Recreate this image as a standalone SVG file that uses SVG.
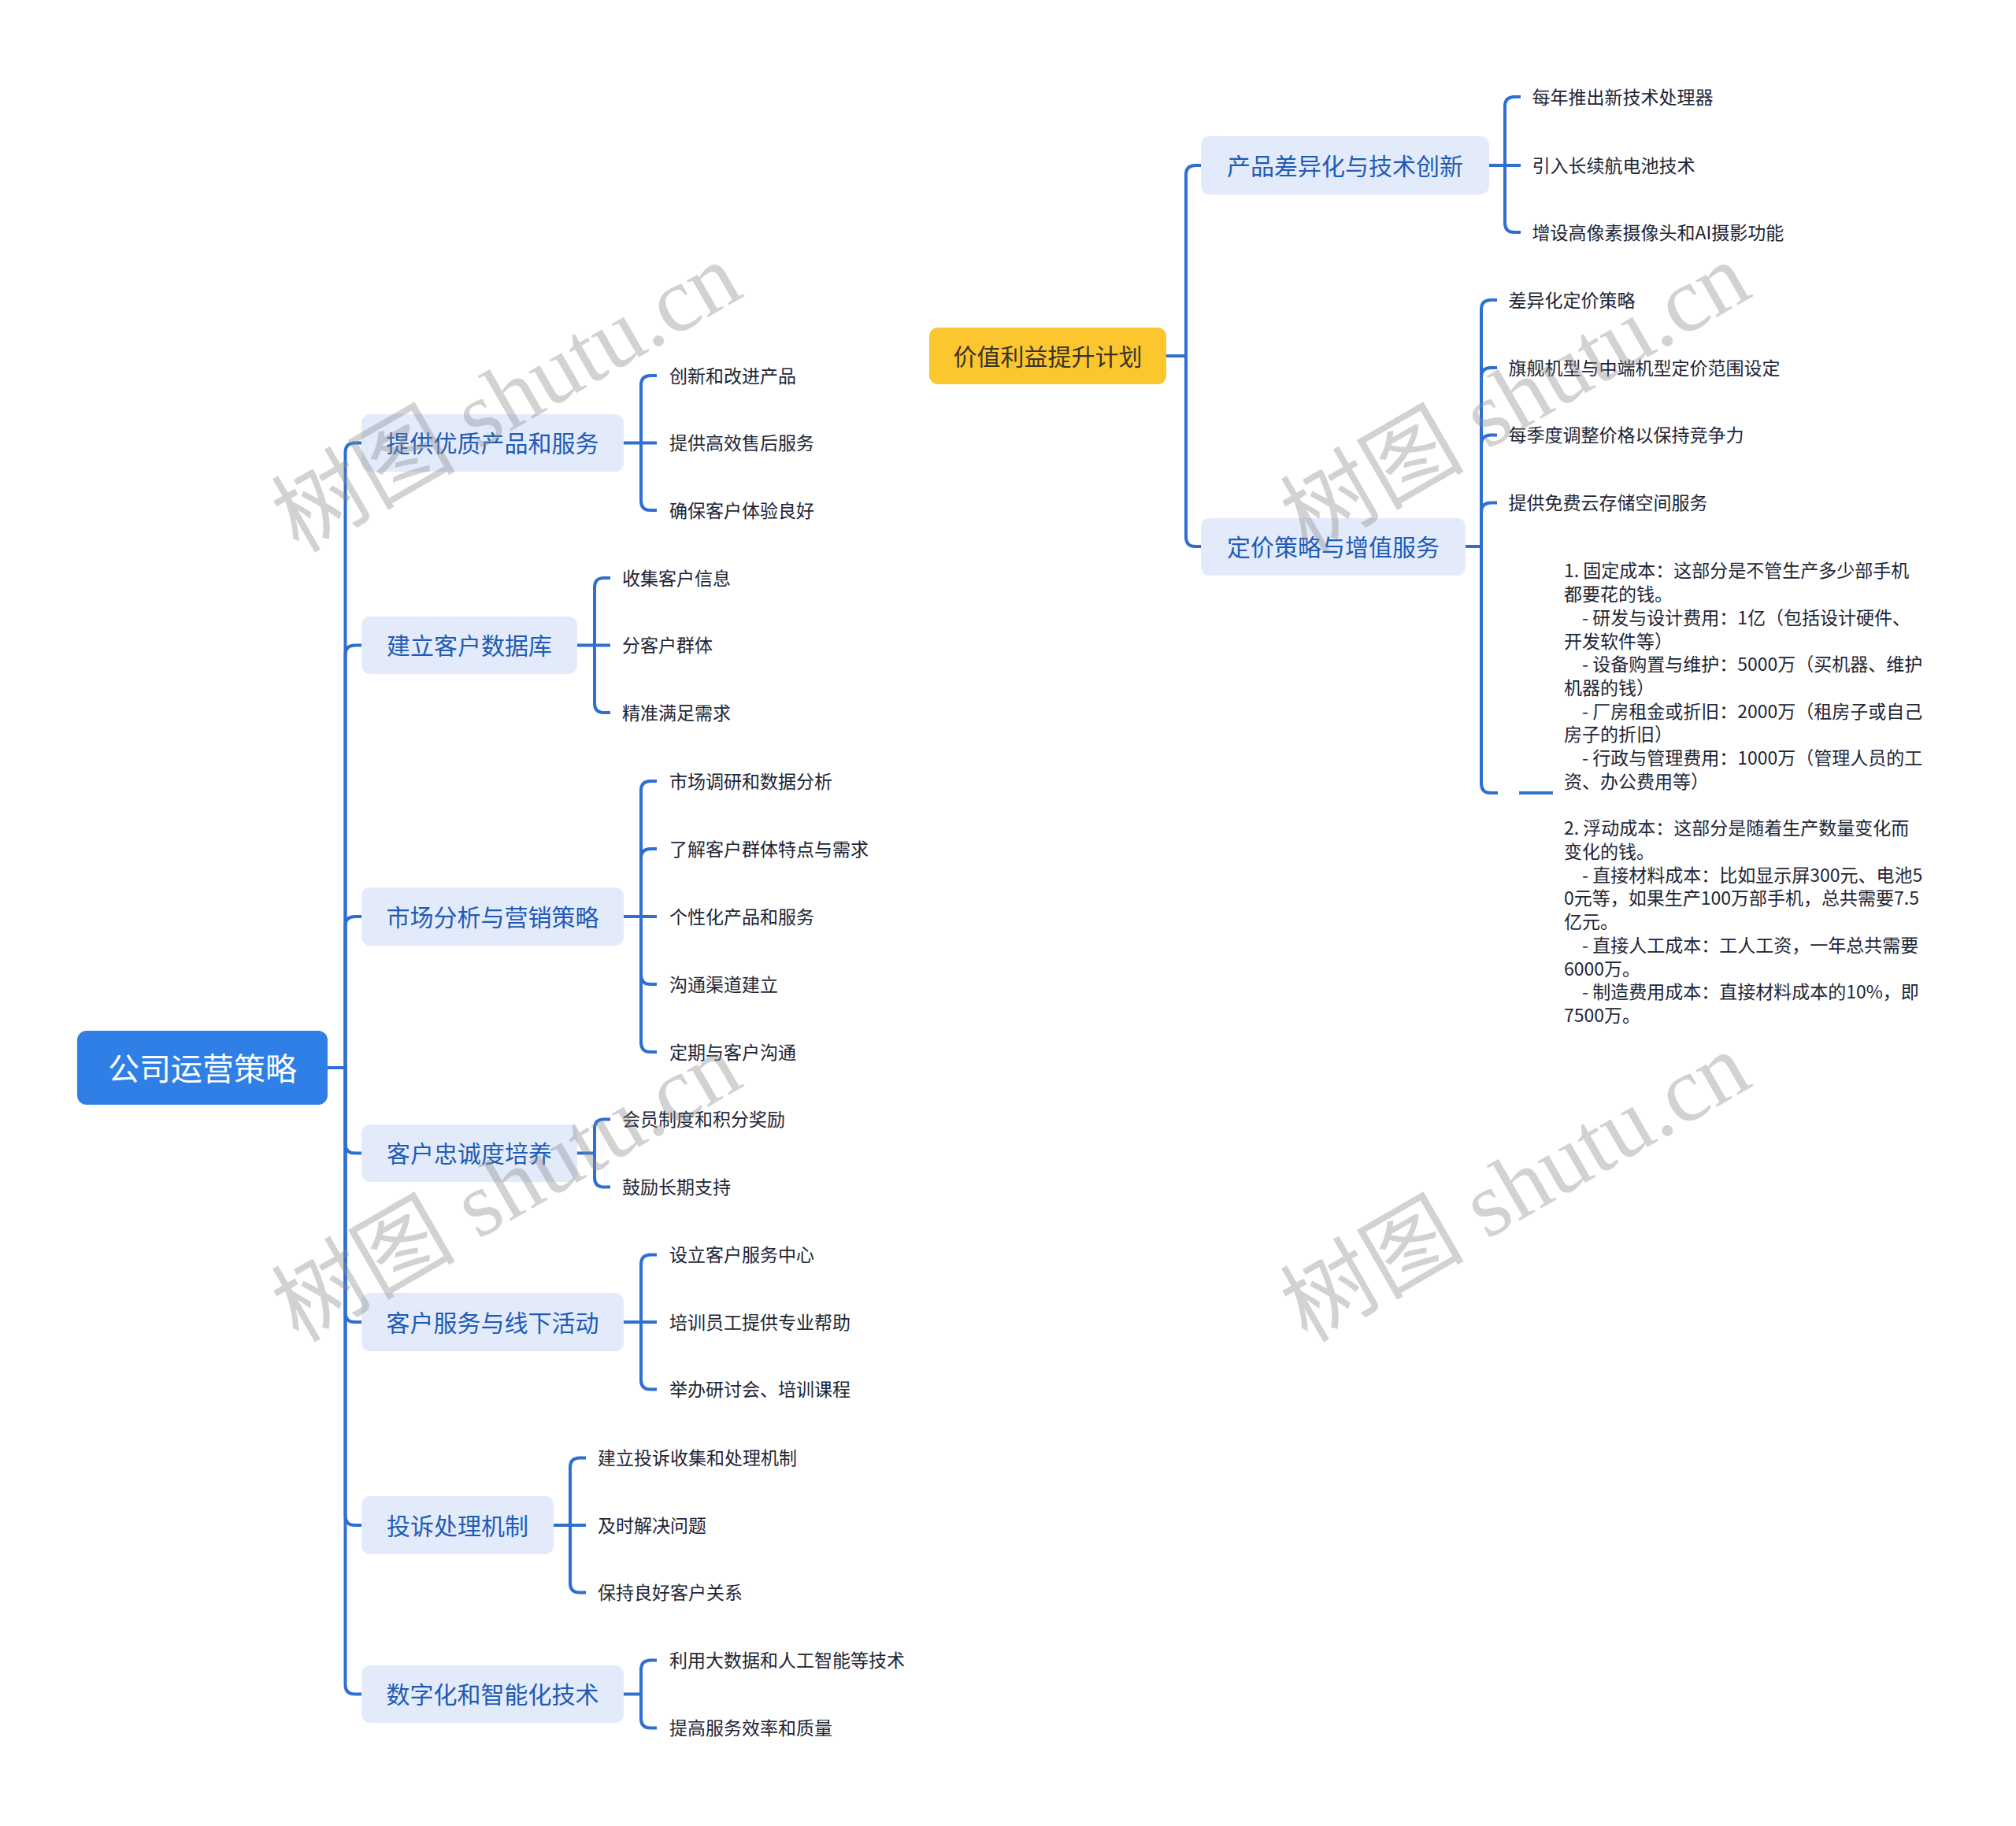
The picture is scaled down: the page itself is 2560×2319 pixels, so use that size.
<svg xmlns="http://www.w3.org/2000/svg" width="2560" height="2319" viewBox="0 0 2560 2319">
<style>
text{font-family:"Noto Sans CJK SC","Noto Sans",sans-serif;dominant-baseline:central}
.bg{fill:#ffffff}
.l1 rect{fill:#E3EBFB}
.l1 text{fill:#1F5BB5;font-size:30px;text-anchor:middle}
.leaf text{fill:#1e2535;font-size:23px}
.up{transform:translateY(-1.5px)}
.conn path{fill:none;stroke:#2F6FD0;stroke-width:4}
.wm{font-family:"Liberation Serif","Noto Sans CJK SC",serif;font-size:117px;fill:#8a8a8a;opacity:0.38;text-anchor:middle;dominant-baseline:alphabetic}
</style>
<rect class="bg" x="0" y="0" width="2560" height="2319"/>

<g id="connectors" class="conn">
<path d="M416 1356 H438.5"/>
<path d="M438.5 1356 V574.5 Q438.5 562.5 450.5 562.5 H459"/>
<path d="M438.5 1356 V831.5 Q438.5 819.5 450.5 819.5 H459"/>
<path d="M438.5 1356 V1176 Q438.5 1164 450.5 1164 H459"/>
<path d="M438.5 1356 V1452.5 Q438.5 1464.5 450.5 1464.5 H459"/>
<path d="M438.5 1356 V1667 Q438.5 1679 450.5 1679 H459"/>
<path d="M438.5 1356 V1925 Q438.5 1937 450.5 1937 H459"/>
<path d="M438.5 1356 V2139.5 Q438.5 2151.5 450.5 2151.5 H459"/>

<path d="M792 562.5 H814"/>
<path d="M814 562.5 V489 Q814 477 826 477 H834"/>
<path d="M814 562.5 H834"/>
<path d="M814 562.5 V636 Q814 648 826 648 H834"/>

<path d="M733 819.5 H755"/>
<path d="M755 819.5 V746 Q755 734 767 734 H775"/>
<path d="M755 819.5 H775"/>
<path d="M755 819.5 V893 Q755 905 767 905 H775"/>

<path d="M792 1164 H814"/>
<path d="M814 1164 V1004 Q814 992 826 992 H834"/>
<path d="M814 1164 V1090 Q814 1078 826 1078 H834"/>
<path d="M814 1164 H834"/>
<path d="M814 1164 V1238 Q814 1250 826 1250 H834"/>
<path d="M814 1164 V1324 Q814 1336 826 1336 H834"/>

<path d="M733 1464.5 H755"/>
<path d="M755 1464.5 V1433.5 Q755 1421.5 767 1421.5 H775"/>
<path d="M755 1464.5 V1495.5 Q755 1507.5 767 1507.5 H775"/>

<path d="M792 1679 H814"/>
<path d="M814 1679 V1605.5 Q814 1593.5 826 1593.5 H834"/>
<path d="M814 1679 H834"/>
<path d="M814 1679 V1752.5 Q814 1764.5 826 1764.5 H834"/>

<path d="M703 1937 H724"/>
<path d="M724 1937 V1863.5 Q724 1851.5 736 1851.5 H744"/>
<path d="M724 1937 H744"/>
<path d="M724 1937 V2010.5 Q724 2022.5 736 2022.5 H744"/>

<path d="M792 2151.5 H814"/>
<path d="M814 2151.5 V2120.5 Q814 2108.5 826 2108.5 H834"/>
<path d="M814 2151.5 V2182.5 Q814 2194.5 826 2194.5 H834"/>

<path d="M1481 452 H1506"/>
<path d="M1506 452 V222 Q1506 210 1518 210 H1525"/>
<path d="M1506 452 V682 Q1506 694 1518 694 H1525"/>

<path d="M1891 210 H1911"/>
<path d="M1911 210 V135 Q1911 123 1923 123 H1931"/>
<path d="M1911 210 H1931"/>
<path d="M1911 210 V283 Q1911 295 1923 295 H1931"/>

<path d="M1861 694 H1881"/>
<path d="M1881 694 V393 Q1881 381 1893 381 H1901"/>
<path d="M1881 694 V479 Q1881 467 1893 467 H1901"/>
<path d="M1881 694 V564.5 Q1881 552.5 1893 552.5 H1901"/>
<path d="M1881 694 V650.5 Q1881 638.5 1893 638.5 H1901"/>
<path d="M1881 694 V995 Q1881 1007 1893 1007 H1902"/>
<path d="M1929 1007 H1972"/>
</g>

<g id="root">
<rect x="98" y="1309" width="318" height="94" rx="12" fill="#2F7FE6"/>
<text class="up" x="257" y="1356" font-size="40" fill="#ffffff" text-anchor="middle">公司运营策略</text>
</g>

<g id="n1" class="l1"><rect x="459" y="526" width="333" height="73" rx="11"/><text class="up" x="625.5" y="562.5">提供优质产品和服务</text></g>
<g id="n2" class="l1"><rect x="459" y="783" width="274" height="73" rx="11"/><text class="up" x="596" y="819.5">建立客户数据库</text></g>
<g id="n3" class="l1"><rect x="459" y="1127" width="333" height="74" rx="11"/><text class="up" x="625.5" y="1164">市场分析与营销策略</text></g>
<g id="n4" class="l1"><rect x="459" y="1428" width="274" height="73" rx="11"/><text class="up" x="596" y="1464.5">客户忠诚度培养</text></g>
<g id="n5" class="l1"><rect x="459" y="1642" width="333" height="74" rx="11"/><text class="up" x="625.5" y="1679">客户服务与线下活动</text></g>
<g id="n6" class="l1"><rect x="459" y="1900" width="244" height="74" rx="11"/><text class="up" x="581" y="1937">投诉处理机制</text></g>
<g id="n7" class="l1"><rect x="459" y="2115" width="333" height="73" rx="11"/><text class="up" x="625.5" y="2151.5">数字化和智能化技术</text></g>

<g id="n1-leaves" class="leaf up">
<text x="850" y="477">创新和改进产品</text>
<text x="850" y="562.5">提供高效售后服务</text>
<text x="850" y="648">确保客户体验良好</text>
</g>
<g id="n2-leaves" class="leaf up">
<text x="790" y="734">收集客户信息</text>
<text x="790" y="819.5">分客户群体</text>
<text x="790" y="905">精准满足需求</text>
</g>
<g id="n3-leaves" class="leaf up">
<text x="850" y="992">市场调研和数据分析</text>
<text x="850" y="1078">了解客户群体特点与需求</text>
<text x="850" y="1164">个性化产品和服务</text>
<text x="850" y="1250">沟通渠道建立</text>
<text x="850" y="1336">定期与客户沟通</text>
</g>
<g id="n4-leaves" class="leaf up">
<text x="790" y="1421.5">会员制度和积分奖励</text>
<text x="790" y="1507.5">鼓励长期支持</text>
</g>
<g id="n5-leaves" class="leaf up">
<text x="850" y="1593.5">设立客户服务中心</text>
<text x="850" y="1679">培训员工提供专业帮助</text>
<text x="850" y="1764.5">举办研讨会、培训课程</text>
</g>
<g id="n6-leaves" class="leaf up">
<text x="759" y="1851.5">建立投诉收集和处理机制</text>
<text x="759" y="1937">及时解决问题</text>
<text x="759" y="2022.5">保持良好客户关系</text>
</g>
<g id="n7-leaves" class="leaf up">
<text x="850" y="2108.5">利用大数据和人工智能等技术</text>
<text x="850" y="2194.5">提高服务效率和质量</text>
</g>

<g id="plan">
<rect x="1180" y="416" width="301" height="72" rx="11" fill="#FCC62E"/>
<text class="up" x="1330.5" y="452" font-size="30" fill="#3a3326" text-anchor="middle">价值利益提升计划</text>
</g>
<g id="c1" class="l1"><rect x="1525" y="173" width="366" height="74" rx="11"/><text class="up" x="1708" y="210">产品差异化与技术创新</text></g>
<g id="c2" class="l1"><rect x="1525" y="658" width="336" height="73" rx="11"/><text class="up" x="1693" y="694">定价策略与增值服务</text></g>

<g id="c1-leaves" class="leaf up">
<text x="1945.5" y="123">每年推出新技术处理器</text>
<text x="1945.5" y="210">引入长续航电池技术</text>
<text x="1945.5" y="295">增设高像素摄像头和AI摄影功能</text>
</g>
<g id="c2-leaves" class="leaf up">
<text x="1915.5" y="381">差异化定价策略</text>
<text x="1915.5" y="467">旗舰机型与中端机型定价范围设定</text>
<text x="1915.5" y="552.5">每季度调整价格以保持竞争力</text>
<text x="1915.5" y="638.5">提供免费云存储空间服务</text>
</g>
<g id="c2-cost" class="leaf up">
<text x="1986" y="724.8">
<tspan x="1986" y="724.8">1. 固定成本：这部分是不管生产多少部手机</tspan>
<tspan x="1986" y="754.5">都要花的钱。</tspan>
<tspan x="2009" y="784.2">- 研发与设计费用：1亿（包括设计硬件、</tspan>
<tspan x="1986" y="814">开发软件等）</tspan>
<tspan x="2009" y="843.7">- 设备购置与维护：5000万（买机器、维护</tspan>
<tspan x="1986" y="873.4">机器的钱）</tspan>
<tspan x="2009" y="903.1">- 厂房租金或折旧：2000万（租房子或自己</tspan>
<tspan x="1986" y="932.8">房子的折旧）</tspan>
<tspan x="2009" y="962.6">- 行政与管理费用：1000万（管理人员的工</tspan>
<tspan x="1986" y="992.3">资、办公费用等）</tspan>
<tspan x="1986" y="1051.7">2. 浮动成本：这部分是随着生产数量变化而</tspan>
<tspan x="1986" y="1081.4">变化的钱。</tspan>
<tspan x="2009" y="1111.2">- 直接材料成本：比如显示屏300元、电池5</tspan>
<tspan x="1986" y="1140.9">0元等，如果生产100万部手机，总共需要7.5</tspan>
<tspan x="1986" y="1170.6">亿元。</tspan>
<tspan x="2009" y="1200.3">- 直接人工成本：工人工资，一年总共需要</tspan>
<tspan x="1986" y="1230">6000万。</tspan>
<tspan x="2009" y="1259.8">- 制造费用成本：直接材料成本的10%，即</tspan>
<tspan x="1986" y="1289.5">7500万。</tspan>
</text>
</g>

<g id="watermarks">
<text class="wm" transform="translate(663 539) rotate(-30)" x="0" y="0">树图 shutu.cn</text>
<text class="wm" transform="translate(1944 539) rotate(-30)" x="0" y="0">树图 shutu.cn</text>
<text class="wm" transform="translate(663 1542) rotate(-30)" x="0" y="0">树图 shutu.cn</text>
<text class="wm" transform="translate(1944 1542) rotate(-30)" x="0" y="0">树图 shutu.cn</text>
</g>
</svg>
